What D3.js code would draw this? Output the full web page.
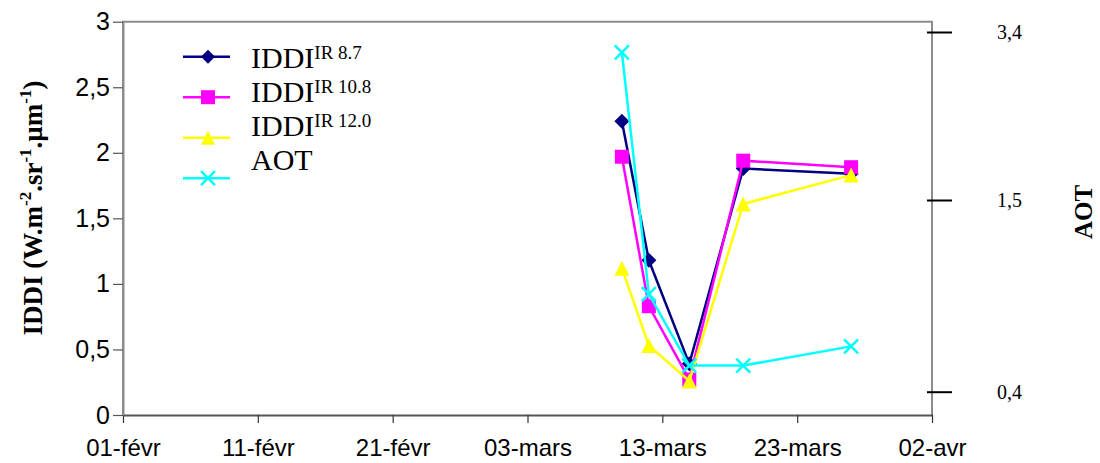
<!DOCTYPE html>
<html><head><meta charset="utf-8">
<script src="https://cdn.jsdelivr.net/npm/d3@7"></script>
<style>body{margin:0;background:#fff}</style>
</head><body>
<svg id="c" width="1100" height="463"></svg>
<script>
// ---- data ----
const dates = ["2003-03-10","2003-03-12","2003-03-15","2003-03-19","2003-03-27"];
const iddi87 = [2.24, 1.18, 0.39, 1.88, 1.84];
const iddi108 = [1.97, 0.83, 0.27, 1.94, 1.89];
const iddi120 = [1.12, 0.53, 0.26, 1.61, 1.83];
const aot = [3.17, 0.96, 0.55, 0.55, 0.66];
const xTickDates = ["2003-02-01","2003-02-11","2003-02-21","2003-03-03","2003-03-13","2003-03-23","2003-04-02"];
const xTickLabels = ["01-févr","11-févr","21-févr","03-mars","13-mars","23-mars","02-avr"];
const yTicks = [0, 0.5, 1, 1.5, 2, 2.5, 3];
const aotTicks = [0.4, 1.5, 3.4];
const seriesNames = ["IR 8.7", "IR 10.8", "IR 12.0", "AOT"];

// ---- layout ----
const L = 123, R = 932, T = 21.7, B = 415;
const svg = d3.select("#c");
const parse = d3.utcParse("%Y-%m-%d");
const x = d3.scaleUtc().domain([parse(xTickDates[0]), parse(xTickDates[xTickDates.length-1])]).range([L, R]);
const y = d3.scaleLinear().domain([0, 3]).range([B, T]);
const yR = d3.scaleLinear().domain(aotTicks).range([391.7, 200, 32]);
const fmt = d => String(d).replace(".", ",");
const serif = "'Liberation Serif', 'Times New Roman', serif";
const sans = "'Liberation Sans', Arial, sans-serif";

// plot frame (gray)
svg.append("path").attr("d", `M${L},${B}V${T}H${R}V${B}`).attr("fill","none").attr("stroke","#8c8c8c").attr("stroke-width",2);

// x axis
const xa = svg.append("g").attr("transform", `translate(0,${B})`)
  .call(d3.axisBottom(x).tickValues(xTickDates.map(parse)).tickFormat((d,i)=>xTickLabels[i]).tickSize(8).tickSizeOuter(0));
xa.select(".domain").attr("stroke","#555").attr("stroke-width",2);
xa.selectAll(".tick line").attr("stroke","#333").attr("stroke-width",1.2);
xa.selectAll(".tick text").attr("y", 24).attr("dy","0.71em").attr("font-family",sans).attr("font-size",24).attr("fill","#000");

// left y axis
const ya = svg.append("g").attr("transform", `translate(${L},0)`)
  .call(d3.axisLeft(y).tickValues(yTicks).tickFormat(fmt).tickSize(10).tickSizeOuter(0).tickPadding(3));
ya.select(".domain").attr("stroke","#8c8c8c").attr("stroke-width",2);
ya.selectAll(".tick line").attr("stroke","#555").attr("stroke-width",1.2);
ya.selectAll(".tick text").attr("font-family",sans).attr("font-size",25).attr("fill","#000");

// right AOT axis (crossing ticks)
const ra = svg.append("g").attr("transform", `translate(${R},0)`)
  .call(d3.axisRight(yR).tickValues(aotTicks).tickFormat(fmt).tickSize(20).tickSizeOuter(0).tickPadding(45));
ra.select(".domain").remove();
ra.selectAll(".tick line").attr("x1",-5).attr("stroke","#000").attr("stroke-width",2);
ra.selectAll(".tick text").attr("font-family",serif).attr("font-size",20).attr("fill","#000");

// axis titles
const lt = svg.append("text").attr("transform","translate(42,208) rotate(-90)").attr("text-anchor","middle")
  .attr("font-family",serif).attr("font-weight","bold").attr("font-size",27);
lt.append("tspan").text("IDDI (W.m");
lt.append("tspan").attr("dy",-11).attr("font-size",17).text("-2");
lt.append("tspan").attr("dy",11).text(".sr");
lt.append("tspan").attr("dy",-11).attr("font-size",17).text("-1");
lt.append("tspan").attr("dy",11).text(".µm");
lt.append("tspan").attr("dy",-11).attr("font-size",17).text("-1");
lt.append("tspan").attr("dy",11).text(")");

svg.append("text").attr("transform","translate(1092,212) rotate(-90)").attr("text-anchor","middle")
  .attr("font-family",serif).attr("font-weight","bold").attr("font-size",25).text("AOT");

// ---- markers ----
function marker(g, type, color, s) {
  if (type === "diamond") g.append("path").attr("d",`M0,${-s}L${s},0L0,${s}L${-s},0Z`).attr("fill",color);
  else if (type === "square") g.append("rect").attr("x",-s).attr("y",-s).attr("width",2*s).attr("height",2*s).attr("fill",color);
  else if (type === "triangle") g.append("path").attr("d",`M0,${-s}L${s},${s}L${-s},${s}Z`).attr("fill",color);
  else if (type === "x") g.append("path").attr("d",`M${-s},${-s}L${s},${s}M${-s},${s}L${s},${-s}`).attr("stroke",color).attr("stroke-width",2.5).attr("fill","none");
}

const series = [
  {vals: iddi87, color:"#000080", type:"diamond", size:7.5, scale:y},
  {vals: iddi108, color:"#ff00ff", type:"square", size:7, scale:y},
  {vals: iddi120, color:"#ffff00", type:"triangle", size:7.5, scale:y},
  {vals: aot, color:"#00ffff", type:"x", size:7, scale:yR}
];

series.forEach(s => {
  const pts = dates.map((d,i)=>[x(parse(d)), s.scale(s.vals[i])]);
  svg.append("path").attr("d", d3.line()(pts)).attr("fill","none").attr("stroke",s.color).attr("stroke-width",2.5);
  svg.selectAll(null).data(pts).enter().append("g").attr("transform",p=>`translate(${p[0]},${p[1]})`)
    .each(function(){ marker(d3.select(this), s.type, s.color, s.size); });
});

// ---- legend ----
series.forEach((s,i) => {
  const ly = 56.7 + i*40.5;
  svg.append("line").attr("x1",183).attr("x2",230).attr("y1",ly).attr("y2",ly).attr("stroke",s.color).attr("stroke-width",2.5);
  const g = svg.append("g").attr("transform",`translate(208,${ly})`);
  marker(g, s.type, s.color, s.type==="x"?7:7);
  const t = svg.append("text").attr("x",251).attr("y",68 + i*34)
    .attr("font-family",serif).attr("font-size",30).attr("fill","#000");
  if (i < 3) {
    t.append("tspan").text("IDDI");
    t.append("tspan").attr("dy",-9).attr("font-size",19).text(seriesNames[i]);
  } else {
    t.text(seriesNames[i]);
  }
});
</script>
</body></html>
